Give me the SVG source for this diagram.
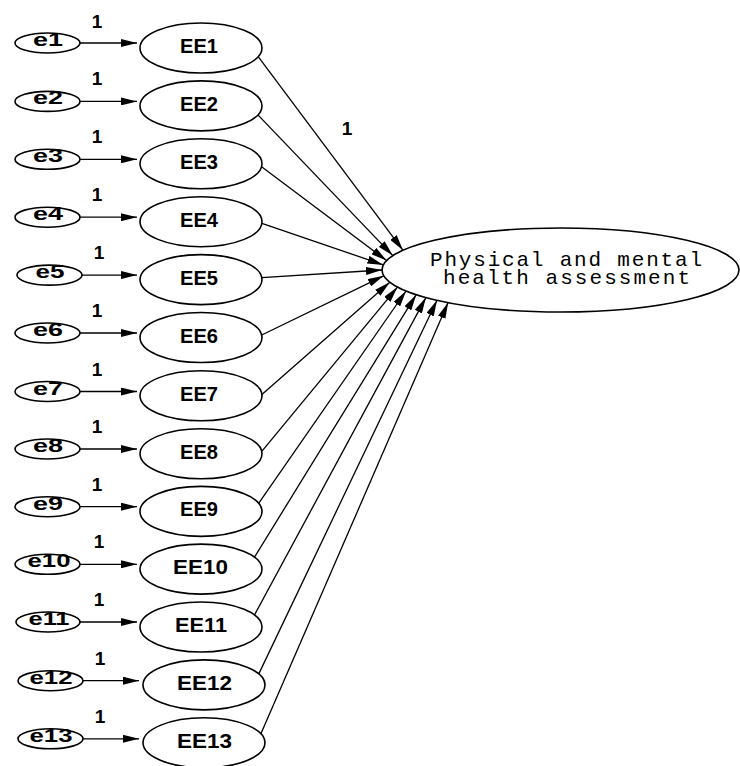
<svg xmlns="http://www.w3.org/2000/svg" width="740" height="766" viewBox="0 0 740 766">
  <style>
    .node { fill: #fff; stroke: #000; stroke-width: 1.6; }
    .lbl { font-family: "Liberation Sans", Arial, sans-serif; font-weight: bold; fill: #000; text-anchor: middle; }
    .ee { font-size: 20px; }
    .err { font-size: 19px; }
    .w { font-size: 19px; }
    .big { font-family: "Liberation Mono", "DejaVu Sans Mono", monospace; font-size: 21px; fill: #000; text-anchor: middle; }
    .path { stroke: #000; stroke-width: 1.3; fill: none; marker-end: url(#arr); }
  </style>
  <defs>
    <marker id="arr" markerUnits="userSpaceOnUse" markerWidth="16" markerHeight="8" refX="16" refY="4" orient="auto">
      <path d="M0,0 L16,4 L0,8 z" fill="#000"/>
    </marker>
  </defs>
  <rect width="740" height="766" fill="#fff"/>

  <!-- connectors -->
  <g id="connectors">
    <!-- error terms to indicators -->
    <line class="path" x1="80" y1="43" x2="137" y2="43"/>
    <line class="path" x1="80" y1="101.4" x2="137" y2="101.4"/>
    <line class="path" x1="80" y1="159.3" x2="137" y2="159.3"/>
    <line class="path" x1="80" y1="217.2" x2="137" y2="217.2"/>
    <line class="path" x1="82" y1="275.1" x2="137" y2="275.1"/>
    <line class="path" x1="80" y1="333" x2="137" y2="333"/>
    <line class="path" x1="80" y1="391.5" x2="137" y2="391.5"/>
    <line class="path" x1="80" y1="449" x2="137" y2="449"/>
    <line class="path" x1="80" y1="506.7" x2="137" y2="506.7"/>
    <line class="path" x1="80" y1="564.3" x2="137" y2="564.3"/>
    <line class="path" x1="80" y1="622" x2="137" y2="622"/>
    <line class="path" x1="83" y1="680.7" x2="139" y2="680.7"/>
    <line class="path" x1="83" y1="738.8" x2="139" y2="738.8"/>

    <!-- indicators to the latent factor -->
    <line class="path" x1="258.2" y1="56.7" x2="403.0" y2="250.3"/>
    <line class="path" x1="257.9" y1="114.9" x2="392.8" y2="255.6"/>
    <line class="path" x1="261.6" y1="166.8" x2="386.6" y2="260.6"/>
    <line class="path" x1="261.9" y1="223.3" x2="383.3" y2="264.9"/>
    <line class="path" x1="261.8" y1="277.6" x2="382.0" y2="270.0"/>
    <line class="path" x1="261.7" y1="335.0" x2="383.7" y2="275.8"/>
    <line class="path" x1="261.9" y1="394.4" x2="389.8" y2="282.3"/>
    <line class="path" x1="261.8" y1="451.3" x2="397.5" y2="287.1"/>
    <line class="path" x1="258.8" y1="503.2" x2="406.0" y2="291.0"/>
    <line class="path" x1="254.5" y1="557.1" x2="416.2" y2="294.7"/>
    <line class="path" x1="254.5" y1="615.0" x2="425.9" y2="297.6"/>
    <line class="path" x1="258.8" y1="673.9" x2="437.0" y2="300.2"/>
    <line class="path" x1="260.9" y1="733.8" x2="448.1" y2="302.6"/>

    <!-- path weights -->
    <text class="lbl w" x="97" y="27.5">1</text>
    <text class="lbl w" x="97" y="85.4">1</text>
    <text class="lbl w" x="97" y="143.3">1</text>
    <text class="lbl w" x="97" y="201.2">1</text>
    <text class="lbl w" x="99" y="259.1">1</text>
    <text class="lbl w" x="97" y="317">1</text>
    <text class="lbl w" x="97" y="375.5">1</text>
    <text class="lbl w" x="97" y="433">1</text>
    <text class="lbl w" x="97" y="490.7">1</text>
    <text class="lbl w" x="99" y="548.3">1</text>
    <text class="lbl w" x="99" y="606">1</text>
    <text class="lbl w" x="100" y="664.7">1</text>
    <text class="lbl w" x="100" y="722.8">1</text>
    <text class="lbl w" x="347" y="135">1</text>
  </g>

  <!-- latent factor -->
  <g id="factor">
    <ellipse class="node" cx="560.5" cy="270" rx="178.5" ry="42"/>
    <text class="big" x="566" y="266" textLength="272" lengthAdjust="spacing">Physical and mental</text>
    <text class="big" x="566.5" y="283.5" textLength="247" lengthAdjust="spacing">health assessment</text>
  </g>

  <!-- indicators -->
  <g id="EE1"><ellipse class="node" cx="201" cy="48" rx="61" ry="25"/><text class="lbl ee" x="199" y="53" textLength="38" lengthAdjust="spacingAndGlyphs">EE1</text></g>
  <g id="EE2"><ellipse class="node" cx="201" cy="105.9" rx="61" ry="25"/><text class="lbl ee" x="199" y="110.9" textLength="38" lengthAdjust="spacingAndGlyphs">EE2</text></g>
  <g id="EE3"><ellipse class="node" cx="201" cy="163.8" rx="61" ry="25"/><text class="lbl ee" x="199" y="168.8" textLength="38" lengthAdjust="spacingAndGlyphs">EE3</text></g>
  <g id="EE4"><ellipse class="node" cx="201" cy="221.7" rx="61" ry="25"/><text class="lbl ee" x="199" y="226.7" textLength="38" lengthAdjust="spacingAndGlyphs">EE4</text></g>
  <g id="EE5"><ellipse class="node" cx="201" cy="279.6" rx="61" ry="25"/><text class="lbl ee" x="199" y="284.6" textLength="38" lengthAdjust="spacingAndGlyphs">EE5</text></g>
  <g id="EE6"><ellipse class="node" cx="201" cy="337.5" rx="61" ry="25"/><text class="lbl ee" x="199" y="342.5" textLength="38" lengthAdjust="spacingAndGlyphs">EE6</text></g>
  <g id="EE7"><ellipse class="node" cx="201" cy="395.8" rx="61" ry="25"/><text class="lbl ee" x="199" y="400.8" textLength="38" lengthAdjust="spacingAndGlyphs">EE7</text></g>
  <g id="EE8"><ellipse class="node" cx="201" cy="453.8" rx="61" ry="25"/><text class="lbl ee" x="199" y="458.8" textLength="38" lengthAdjust="spacingAndGlyphs">EE8</text></g>
  <g id="EE9"><ellipse class="node" cx="201" cy="511.4" rx="61" ry="25"/><text class="lbl ee" x="199" y="516.4" textLength="38" lengthAdjust="spacingAndGlyphs">EE9</text></g>
  <g id="EE10"><ellipse class="node" cx="201" cy="569.1" rx="61" ry="25"/><text class="lbl ee" x="200.5" y="574.1" textLength="55" lengthAdjust="spacingAndGlyphs">EE10</text></g>
  <g id="EE11"><ellipse class="node" cx="201" cy="627" rx="61" ry="25"/><text class="lbl ee" x="201" y="632" textLength="52" lengthAdjust="spacingAndGlyphs">EE11</text></g>
  <g id="EE12"><ellipse class="node" cx="204" cy="684.9" rx="61" ry="25"/><text class="lbl ee" x="204.5" y="689.9" textLength="55" lengthAdjust="spacingAndGlyphs">EE12</text></g>
  <g id="EE13"><ellipse class="node" cx="204" cy="742.8" rx="61" ry="25"/><text class="lbl ee" x="204.5" y="747.8" textLength="55" lengthAdjust="spacingAndGlyphs">EE13</text></g>

  <!-- error terms -->
  <g id="e1"><ellipse class="node" cx="47.5" cy="43" rx="32.5" ry="10"/><text class="lbl err" x="48" y="46" textLength="30" lengthAdjust="spacingAndGlyphs">e1</text></g>
  <g id="e2"><ellipse class="node" cx="47.5" cy="101.4" rx="32.5" ry="10"/><text class="lbl err" x="48" y="104.4" textLength="30" lengthAdjust="spacingAndGlyphs">e2</text></g>
  <g id="e3"><ellipse class="node" cx="47.5" cy="159.3" rx="32.5" ry="10"/><text class="lbl err" x="48" y="162.3" textLength="30" lengthAdjust="spacingAndGlyphs">e3</text></g>
  <g id="e4"><ellipse class="node" cx="47.5" cy="217.2" rx="32.5" ry="10"/><text class="lbl err" x="48" y="220.2" textLength="30" lengthAdjust="spacingAndGlyphs">e4</text></g>
  <g id="e5"><ellipse class="node" cx="49.5" cy="275.1" rx="32.5" ry="10"/><text class="lbl err" x="50" y="278.1" textLength="29" lengthAdjust="spacingAndGlyphs">e5</text></g>
  <g id="e6"><ellipse class="node" cx="47.5" cy="333" rx="32.5" ry="10"/><text class="lbl err" x="48" y="336" textLength="30" lengthAdjust="spacingAndGlyphs">e6</text></g>
  <g id="e7"><ellipse class="node" cx="47.5" cy="391.5" rx="32.5" ry="10"/><text class="lbl err" x="48" y="394.5" textLength="30" lengthAdjust="spacingAndGlyphs">e7</text></g>
  <g id="e8"><ellipse class="node" cx="47.5" cy="449" rx="32.5" ry="10"/><text class="lbl err" x="48" y="452" textLength="30" lengthAdjust="spacingAndGlyphs">e8</text></g>
  <g id="e9"><ellipse class="node" cx="47.5" cy="506.7" rx="32.5" ry="10"/><text class="lbl err" x="48" y="509.7" textLength="30" lengthAdjust="spacingAndGlyphs">e9</text></g>
  <g id="e10"><ellipse class="node" cx="47.5" cy="564.3" rx="32.5" ry="10"/><text class="lbl err" x="49" y="567.3" textLength="43" lengthAdjust="spacingAndGlyphs">e10</text></g>
  <g id="e11"><ellipse class="node" cx="48" cy="622" rx="32" ry="10"/><text class="lbl err" x="49" y="625" textLength="41" lengthAdjust="spacingAndGlyphs">e11</text></g>
  <g id="e12"><ellipse class="node" cx="50.5" cy="680.7" rx="32.5" ry="10"/><text class="lbl err" x="51" y="683.7" textLength="43" lengthAdjust="spacingAndGlyphs">e12</text></g>
  <g id="e13"><ellipse class="node" cx="50.5" cy="738.8" rx="32.5" ry="10"/><text class="lbl err" x="51" y="741.8" textLength="43" lengthAdjust="spacingAndGlyphs">e13</text></g>
</svg>
